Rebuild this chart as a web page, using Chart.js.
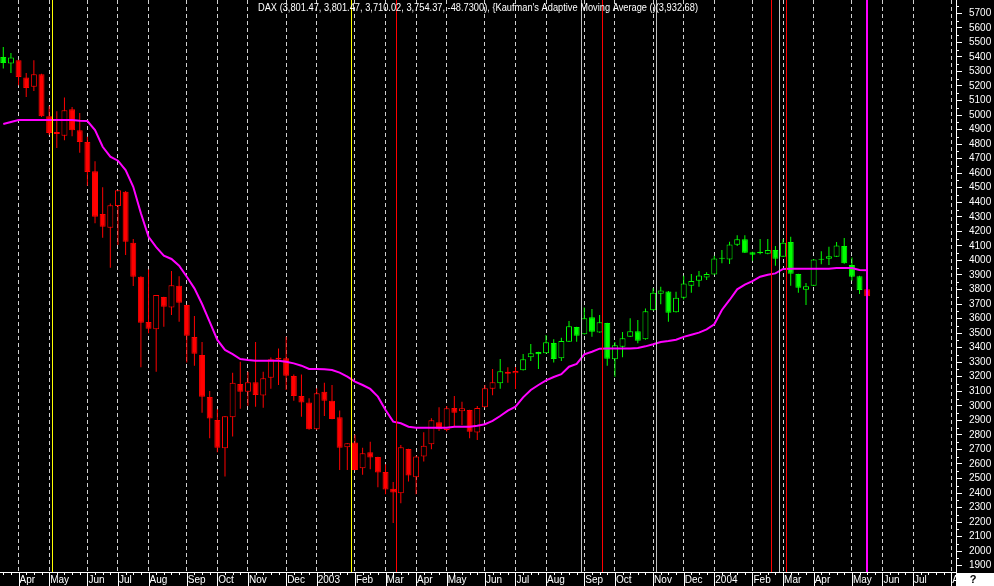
<!DOCTYPE html>
<html>
<head>
<meta charset="utf-8">
<title>DAX weekly - Kaufman's Adaptive Moving Average</title>
<script src="https://cdn.jsdelivr.net/npm/chart.js@4.4.1/dist/chart.umd.min.js"></script>
<style>
  html, body { margin: 0; padding: 0; background: #000; }
  #wrap { width: 994px; height: 586px; }
</style>
</head>
<body>
<div id="wrap"><canvas id="daxChart" width="994" height="586"></canvas></div>
<script>
const FONT = '"Liberation Sans Narrow", "Arial Narrow", "Liberation Sans", Arial, sans-serif';

// Weekly bars, bar 0 = week ending 22 Mar 2002, last bar = week ending 21 May 2004
const opens = [5400,5354,5377,5258,5194,5281,4992,4884,4857,5040,
    4896,4815,4614,4319,4224,4374,4472,4121,3888,3576,
    3526,3748,3677,3826,3693,3473,3349,3061,2903,2708,
    2921,3150,3097,3162,3070,3193,3318,3327,3205,3068,
    3022,2839,3097,3035,2921,2715,2747,2571,2681,2648,
    2545,2429,2399,2703,2509,2651,2736,2887,2834,2985,
    2962,2971,2816,2990,3118,3155,3235,3224,3244,3334,
    3370,3361,3432,3327,3441,3542,3492,3609,3505,3570,
    3320,3407,3475,3512,3457,3657,3771,3787,3643,3743,
    3826,3860,3883,3904,4018,4007,4108,4145,4057,4059,
    4046,4071,4025,4126,3906,3798,3826,4011,4011,4025,
    4099,3968,3892,3801.47];
const highs = [5468,5427,5380,5290,5377,5285,5061,5026,5121,5056,
    5015,4850,4683,4504,4392,4483,4477,4147,3892,3938,
    3762,3750,3927,3892,3695,3618,3439,3102,2976,2930,
    3228,3303,3235,3439,3235,3333,3395,3475,3216,3216,
    3052,3121,3159,3143,2967,2742,2800,2712,2752,2650,
    2598,2475,2731,2705,2656,2818,2914,2990,2999,3068,
    3027,2973,2999,3143,3253,3322,3265,3267,3356,3425,
    3372,3487,3457,3468,3583,3544,3677,3666,3624,3572,
    3439,3508,3602,3590,3670,3808,3819,3789,3785,3895,
    3906,3927,3918,4032,4071,4128,4174,4174,4059,4147,
    4147,4099,4145,4163,3908,3844,4009,4064,4094,4126,
    4154,4021,3894,3801.47];
const lows = [5320,5290,5205,5125,5166,4987,4862,4774,4827,4855,
    4740,4513,4255,4156,3950,4106,4037,3824,3265,3499,
    3235,3544,3624,3578,3297,3276,2953,2777,2681,2513,
    2788,2980,3001,2994,2987,3118,3143,3109,3035,2925,
    2836,2836,2930,2908,2559,2559,2557,2525,2564,2440,
    2392,2193,2330,2479,2392,2616,2701,2827,2823,2857,
    2868,2777,2765,2988,3072,3118,3159,3116,3242,3308,
    3253,3359,3297,3308,3439,3441,3490,3475,3503,3276,
    3200,3334,3473,3430,3455,3655,3698,3578,3641,3732,
    3778,3819,3865,3902,3980,3975,4099,4051,3998,4042,
    4042,3963,4023,3826,3778,3693,3824,3973,3968,4023,
    3978,3860,3769,3710.02];
const closes = [5358,5396,5262,5187,5281,4992,4877,4870,5033,4896,
    4815,4609,4300,4231,4380,4483,4128,3888,3571,3530,
    3762,3682,3829,3709,3482,3358,3063,2912,2712,2928,
    3159,3097,3162,3075,3189,3320,3330,3207,3068,3022,
    2839,3086,3035,2910,2712,2742,2559,2674,2644,2541,
    2424,2403,2715,2520,2651,2726,2901,2839,2983,2953,
    2983,2822,2985,3121,3162,3237,3221,3240,3320,3361,
    3354,3437,3322,3446,3547,3482,3602,3510,3574,3324,
    3416,3464,3512,3448,3650,3778,3794,3640,3743,3842,
    3858,3897,3906,4014,4011,4110,4145,4053,4039,4050,
    4071,4011,4122,3908,3812,3822,4007,4005,4028,4103,
    3980,3888,3796,3754.37];
// Kaufman's Adaptive Moving Average
const kama = [4938,4952,4966,4966,4966,4966,4966,4966,4966,4966,
    4961,4959,4897,4782,4714,4686,4622,4507,4324,4163,
    4092,4033,4010,3964,3888,3808,3700,3578,3453,3384,
    3356,3322,3315,3310,3310,3310,3310,3303,3292,3276,
    3253,3253,3251,3246,3228,3200,3166,3143,3116,3063,
    2971,2891,2880,2856,2849,2849,2849,2849,2849,2856,
    2856,2856,2863,2873,2896,2930,2967,2994,3058,3109,
    3143,3175,3198,3217,3269,3288,3354,3372,3393,3395,
    3395,3395,3395,3397,3409,3423,3439,3446,3455,3474,
    3489,3503,3526,3561,3659,3728,3801,3833,3858,3888,
    3902,3911,3941,3943,3943,3943,3943,3943,3943,3948,
    3948,3948,3934,3933];
// trend colouring of the bars: runs of [trend, number of bars]
const trendRuns = [['up', 2], ['down', 63], ['up', 1], ['down', 2], ['up', 45], ['down', 1]];

// x axis: bar index of the first week of each month
const monthStarts = [2, 6, 11, 15, 19, 24, 28, 32, 37, 41, 46, 50, 54, 58, 63, 67, 71, 76, 80, 85, 89, 93, 98, 102, 106, 111, 115, 119, 124];
const monthLabels = ['Apr', 'May', 'Jun', 'Jul', 'Aug', 'Sep', 'Oct', 'Nov', 'Dec', '2003', 'Feb', 'Mar', 'Apr', 'May', 'Jun', 'Jul', 'Aug', 'Sep', 'Oct', 'Nov', 'Dec', '2004', 'Feb', 'Mar', 'Apr', 'May', 'Jun', 'Jul', 'Aug'];
const priceTicks = [1900, 2000, 2100, 2200, 2300, 2400, 2500, 2600, 2700, 2800, 2900, 3000, 3100, 3200, 3300, 3400, 3500, 3600, 3700, 3800, 3900, 4000, 4100, 4200, 4300, 4400, 4500, 4600, 4700, 4800, 4900, 5000, 5100, 5200, 5300, 5400, 5500, 5600, 5700];

// vertical event markers (in bar units)
const yellowMarks = [6.41, 45.52];
const redMarks = [51.41, 78.35, 100.46, 102.42];
const grayMarks = [75.51, 85.41, 101.47];
const magentaMarks = [112.94];

const chartTitle = "DAX (3,801.47, 3,801.47, 3,710.02, 3,754.37, -48.7300), {Kaufman's Adaptive Moving Average ()(3,932.68)";
const TITLE_WIDTH = 440; // width the title takes in the original picture

const UP_COLOR = '#00ff00';
const DOWN_COLOR = '#ff0000';

const trend = trendRuns.flatMap(([t, n]) => Array(n).fill(t));
const barColors = trend.map(t => (t === 'up' ? UP_COLOR : DOWN_COLOR));
// hollow body when the week closed higher than it opened
const bodyFills = closes.map((c, i) => (c > opens[i] ? '#000000' : barColors[i]));

const wickData = lows.map((lo, i) => ({ x: i, y: [lo, highs[i]] }));
const bodyData = opens.map((o, i) => ({ x: i, y: [o, closes[i]] }));
const kamaData = kama.map((v, i) => ({ x: i, y: v }));

// Extra drawing: event lines, minor ticks, title, corner box
const chartExtras = {
    id: 'chartExtras',
    afterDatasetsDraw(chart) {
        const { ctx, chartArea: { top, bottom } } = chart;
        const xs = chart.scales.x;
        const marks = [
            [grayMarks, '#c0c0c0', 1],
            [yellowMarks, '#ffff00', 1],
            [redMarks, '#ff0000', 1],
            [magentaMarks, '#ff00ff', 2]
        ];
        ctx.save();
        marks.forEach(([list, color, width]) => {
            ctx.strokeStyle = color;
            ctx.lineWidth = width;
            list.forEach(v => {
                const px = Math.round(xs.getPixelForValue(v)) + (width === 1 ? 0.5 : 0);
                ctx.beginPath();
                ctx.moveTo(px, top);
                ctx.lineTo(px, bottom);
                ctx.stroke();
            });
        });
        ctx.restore();
    },
    afterDraw(chart) {
        const { ctx, chartArea: { left, right, bottom } } = chart;
        const xs = chart.scales.x;
        const ys = chart.scales.y;
        ctx.save();
        ctx.strokeStyle = '#ffffff';
        ctx.lineWidth = 1;

        // weekly ticks and month ticks on the time axis
        ctx.beginPath();
        for (let i = 0; i <= 124; i++) {
            const px = Math.round(xs.getPixelForValue(i)) + 0.5;
            const len = monthStarts.includes(i) ? 14 : 3;
            ctx.moveTo(px, bottom);
            ctx.lineTo(px, bottom + len);
        }
        // half-step ticks on the price axis
        priceTicks.forEach(v => {
            const py = Math.round(ys.getPixelForValue(v + 50)) + 0.5;
            if (py > 0) {
                ctx.moveTo(right, py);
                ctx.lineTo(right + 3, py);
            }
        });
        ctx.stroke();

        // title, squeezed to the narrow width of the original font
        ctx.fillStyle = '#ffffff';
        ctx.font = '11px ' + FONT;
        ctx.textAlign = 'left';
        ctx.textBaseline = 'alphabetic';
        const w = ctx.measureText(chartTitle).width;
        const sx = Math.min(1, TITLE_WIDTH / w);
        ctx.save();
        ctx.translate((left + right) / 2 - TITLE_WIDTH / 2, 11);
        ctx.scale(sx, 1);
        ctx.fillText(chartTitle, 0, 0);
        ctx.restore();

        // corner box
        ctx.fillStyle = '#ffffff';
        ctx.fillRect(right, bottom + 1, chart.width - right, chart.height - bottom - 1);
        ctx.fillStyle = '#000000';
        ctx.font = 'bold 11px ' + FONT;
        ctx.textAlign = 'center';
        ctx.textBaseline = 'middle';
        ctx.fillText('?', right + 17, bottom + 8);
        ctx.restore();
    }
};

const daxChart = new Chart(document.getElementById('daxChart'), {
    type: 'bar',
    data: {
        datasets: [
            {
                type: 'line',
                label: 'KAMA',
                data: kamaData,
                borderColor: '#ff00ff',
                borderWidth: 2,
                pointRadius: 0,
                tension: 0,
                order: 1
            },
            {
                label: 'Body',
                data: bodyData,
                backgroundColor: bodyFills,
                borderColor: barColors,
                borderWidth: 1,
                borderSkipped: false,
                barThickness: 6,
                grouped: false,
                inflateAmount: 0,
                order: 2
            },
            {
                label: 'Range',
                data: wickData,
                backgroundColor: barColors,
                borderWidth: 0,
                barThickness: 1,
                grouped: false,
                inflateAmount: 0,
                order: 3
            }
        ]
    },
    plugins: [chartExtras],
    options: {
        responsive: false,
        devicePixelRatio: 1,
        animation: false,
        events: [],
        layout: { padding: 0 },
        plugins: {
            legend: { display: false },
            tooltip: { enabled: false },
            title: { display: false }
        },
        scales: {
            x: {
                type: 'linear',
                position: 'bottom',
                min: -0.43,
                max: 124.62,
                offset: false,
                afterBuildTicks: scale => { scale.ticks = monthStarts.map(v => ({ value: v })); },
                afterFit: scale => { scale.height = 14; scale.paddingLeft = 0; scale.paddingRight = 0; },
                grid: { color: '#d0d0d0', lineWidth: 1, drawTicks: false, offset: false },
                border: { display: true, color: '#ffffff', width: 1, dash: [4, 3] },
                ticks: {
                    color: '#ffffff',
                    align: 'start',
                    labelOffset: 1,
                    padding: 2,
                    autoSkip: false,
                    maxRotation: 0,
                    minRotation: 0,
                    font: { family: FONT, size: 10 },
                    callback: (value, index) => monthLabels[index]
                }
            },
            y: {
                type: 'linear',
                position: 'right',
                min: 1856.7,
                max: 5791.5,
                afterBuildTicks: scale => { scale.ticks = priceTicks.map(v => ({ value: v })); },
                afterFit: scale => { scale.width = 38; scale.paddingTop = 0; scale.paddingBottom = 0; },
                grid: { drawOnChartArea: false, drawTicks: true, tickLength: 6, tickColor: '#ffffff', color: '#ffffff' },
                border: { display: true, color: '#ffffff', width: 1 },
                ticks: {
                    color: '#ffffff',
                    padding: 7,
                    autoSkip: false,
                    font: { family: FONT, size: 10 },
                    callback: value => String(value)
                }
            }
        }
    }
});
</script>
</body>
</html>
